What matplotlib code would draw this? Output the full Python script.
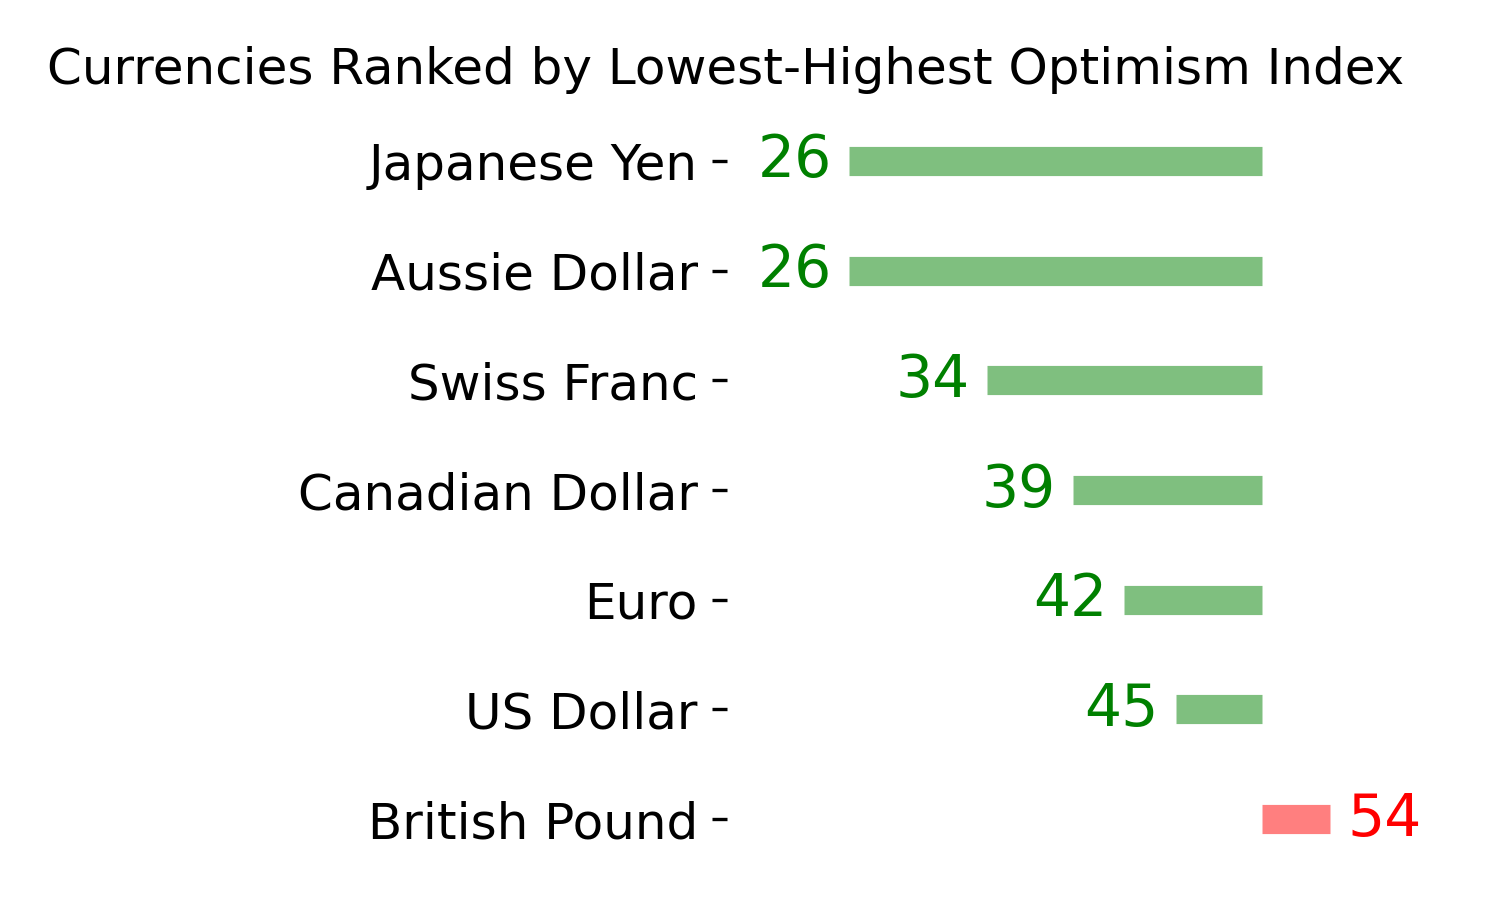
import matplotlib
matplotlib.use("Agg")
import matplotlib.pyplot as plt

# Optimism index per currency (bottom to top)
currencies = ["British Pound", "US Dollar", "Euro", "Canadian Dollar",
              "Swiss Franc", "Aussie Dollar", "Japanese Yen"]
index_vals = [54, 45, 42, 39, 34, 26, 26]
midpoint = 50

fig = plt.figure(figsize=(5, 3), dpi=300)
ax = fig.add_axes([727 / 1500, 26 / 900, (1468 - 727) / 1500, 768 / 900])

ypos = list(range(len(currencies)))
colors = ["red" if v > midpoint else "green" for v in index_vals]

ax.hlines(y=ypos, xmin=midpoint, xmax=index_vals, color=colors, alpha=0.5, linewidth=7)

for y, v, c in zip(ypos, index_vals, colors):
    if v < midpoint:
        ax.text(v - 1, y, str(v), ha="right", va="center", color=c, fontsize=14)
    else:
        ax.text(v + 1, y, str(v), ha="left", va="center", color=c, fontsize=14)

ax.set_yticks(ypos)
ax.set_yticklabels(currencies, fontsize=12)
ax.set_xticks([])
ax.set_xlim(18.9, 62)
ax.set_ylim(-0.5, 6.5)
for s in ax.spines.values():
    s.set_visible(False)

fig.text(726 / 1500, 1 - 70 / 900, "Currencies Ranked by Lowest-Highest Optimism Index",
         ha="center", va="center", fontsize=12)

fig.savefig("out.png", dpi=300)
